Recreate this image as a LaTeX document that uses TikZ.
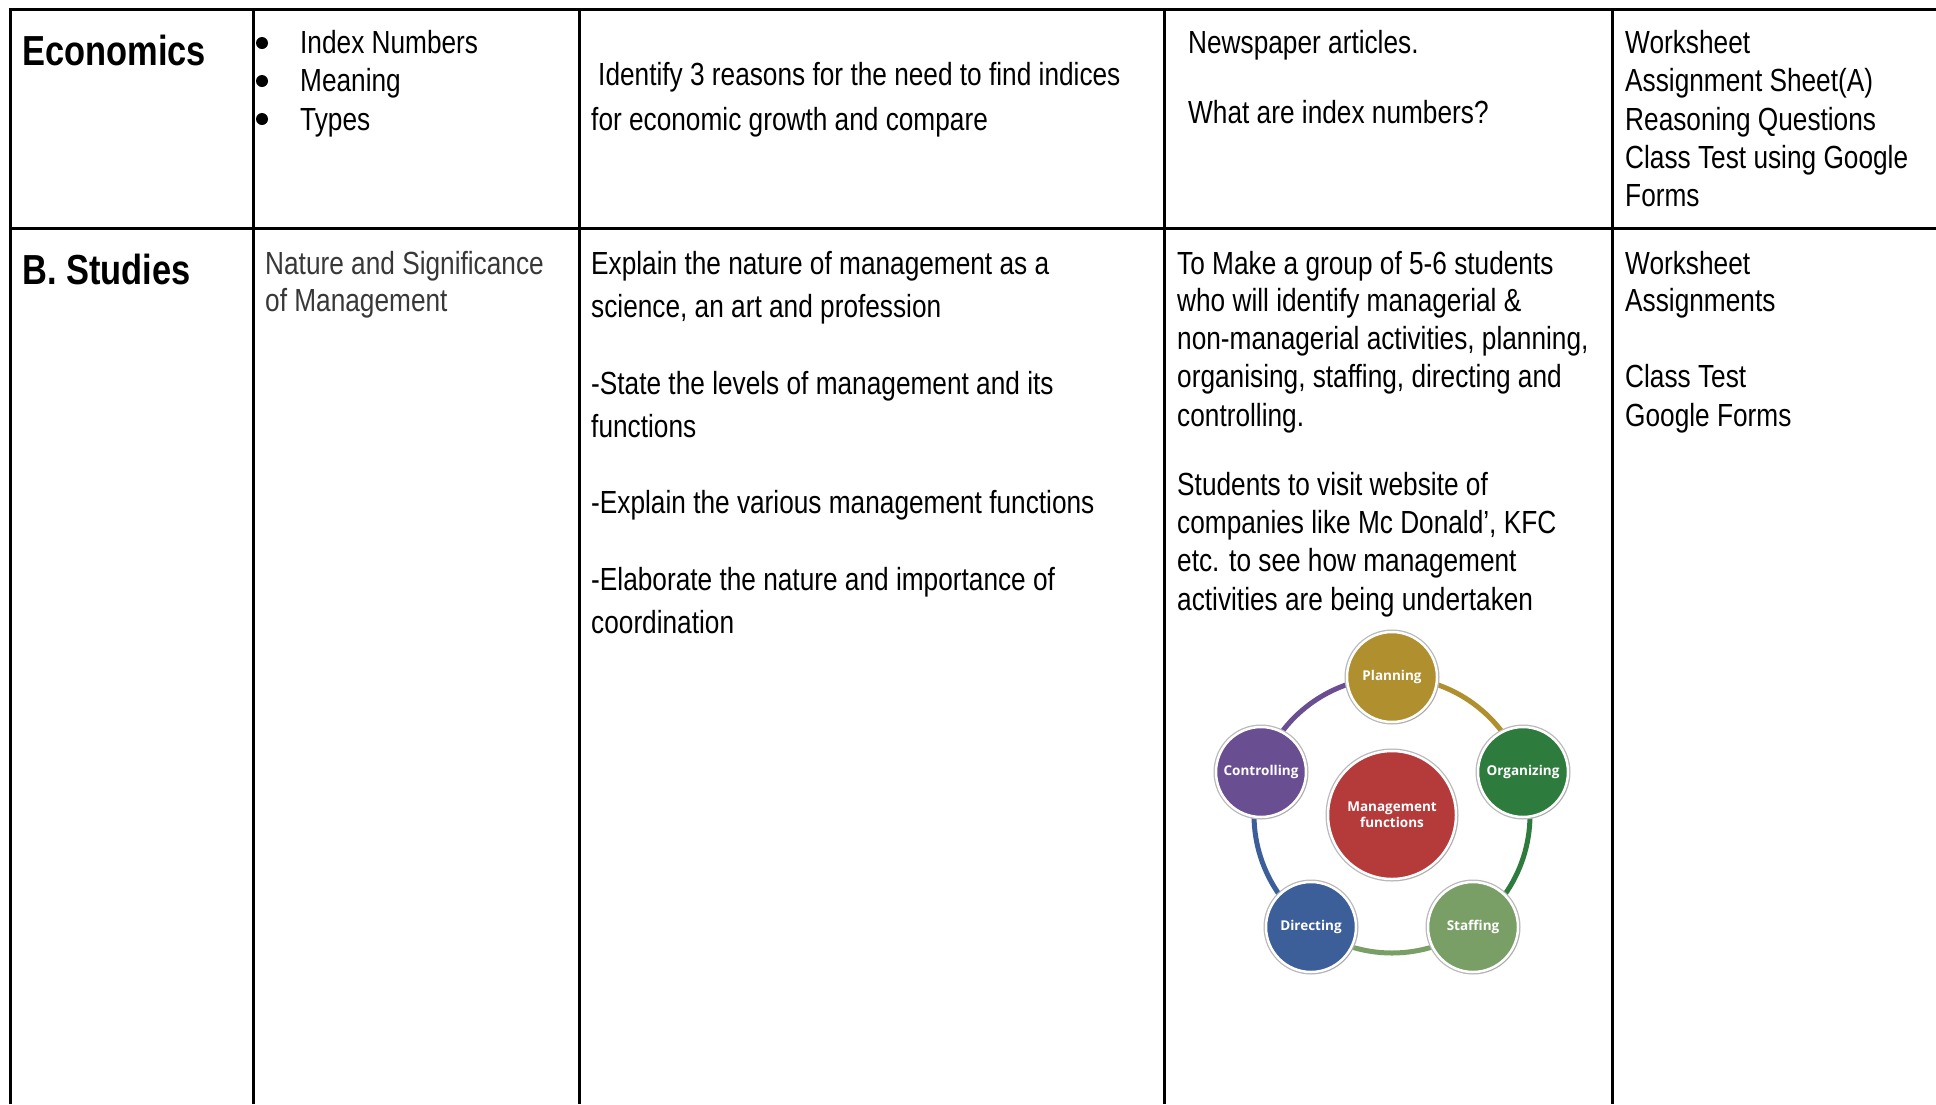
\documentclass[tikz,border=0pt]{standalone}
\usepackage{fontspec}
\setmainfont{Liberation Sans}[FakeStretch=0.82]
\newfontfamily\circfont{Open Sans}
\usetikzlibrary{shadows}
\definecolor{cplan}{HTML}{B08F2E}
\definecolor{corg}{HTML}{2D7B3D}
\definecolor{cstaff}{HTML}{7A9F66}
\definecolor{cdir}{HTML}{3C5E99}
\definecolor{cctrl}{HTML}{6A4E92}
\definecolor{ccent}{HTML}{B53A3A}
\begin{document}
\begin{tikzpicture}[x=1pt,y=-1pt,
  txt/.style={anchor=base west, inner sep=0, font=\fontsize{32}{38}\selectfont},
  hdr/.style={anchor=base west, inner sep=0, font=\fontsize{42}{48}\selectfont\bfseries},
  grid/.style={line width=3},
  bul/.style={circle, fill=black, inner sep=0, minimum size=12},
  fn/.style={circle, draw=white, line width=2.5, minimum size=90, inner sep=0, text=white,
     font=\circfont\bfseries\fontsize{13.5}{16}\selectfont, align=center,
     preaction={draw=black!28, line width=5},
     drop shadow={opacity=0.3, shadow xshift=1.5pt, shadow yshift=-1.5pt}},
  ring/.style={line width=5}]
\useasboundingbox (0,0) rectangle (1936,1104);
\fill[white] (0,0) rectangle (1936,1104);
% grid
\draw[grid] (10,1104) -- (10,9) -- (1936,9);
\draw[grid] (10,228) -- (1936,228);
\foreach \x in {253,579,1164,1612} \draw[grid] (\x,9) -- (\x,1104);
% row 1
\node[hdr] (econ) at (22,65) {Economics};
\node[bul] (b1) at (262,43) {};
\node[bul] (b2) at (262,81) {};
\node[bul] (b3) at (262,119) {};
\node[txt] (t1) at (300,53) {Index Numbers};
\node[txt] (t2) at (300,91) {Meaning};
\node[txt] (t3) at (300,130) {Types};
\node[txt] (o1) at (598,85) {Identify 3 reasons for the need to find indices};
\node[txt] (o2) at (591,130) {for economic growth and compare};
\node[txt] (a1) at (1188,53) {Newspaper articles.};
\node[txt] (a2) at (1188,123) {What are index numbers?};
\node[txt] (w1) at (1625,53) {Worksheet};
\node[txt] (w2) at (1625,91) {Assignment Sheet(A)};
\node[txt] (w3) at (1625,130) {Reasoning Questions};
\node[txt] (w4) at (1625,168) {Class Test using Google};
\node[txt] (w5) at (1625,206) {Forms};
% row 2
\node[hdr] (bs) at (22,284) {B. Studies};
\node[txt, text=black!78] (n1) at (265,274) {Nature and Significance};
\node[txt, text=black!78] (n2) at (265,311) {of Management};
\node[txt] (e1) at (591,274) {Explain the nature of management as a};
\node[txt] (e2) at (591,317) {science, an art and profession};
\node[txt] (e3) at (591,394) {-State the levels of management and its};
\node[txt] (e4) at (591,437) {functions};
\node[txt] (e5) at (591,513) {-Explain the various management functions};
\node[txt] (e6) at (591,590) {-Elaborate the nature and importance of};
\node[txt] (e7) at (591,633) {coordination};
\node[txt] (g1) at (1177,274) {To Make a group of 5-6 students};
\node[txt] (g2) at (1177,311) {who will identify managerial \&};
\node[txt] (g3) at (1177,349) {non-managerial activities, planning,};
\node[txt] (g4) at (1177,387) {organising, staffing, directing and};
\node[txt] (g5) at (1177,426) {controlling.};
\node[txt] (g6) at (1177,495) {Students to visit website of};
\node[txt] (g7) at (1177,533) {companies like Mc Donald’, KFC};
\node[txt] (g8) at (1177,571) {etc. to see how management};
\node[txt] (g9) at (1177,610) {activities are being undertaken};
\node[txt] (r1) at (1625,274) {Worksheet};
\node[txt] (r2) at (1625,311) {Assignments};
\node[txt] (r3) at (1625,387) {Class Test};
\node[txt] (r4) at (1625,426) {Google Forms};
% management diagram
\coordinate (rc) at (1392,815);
\draw[ring, cplan]  ([shift={(-90:138)}]rc) arc[start angle=-90, end angle=-18, radius=138];
\draw[ring, corg]   ([shift={(-18:138)}]rc) arc[start angle=-18, end angle=54, radius=138];
\draw[ring, cstaff] ([shift={(54:138)}]rc) arc[start angle=54, end angle=126, radius=138];
\draw[ring, cdir]   ([shift={(126:138)}]rc) arc[start angle=126, end angle=198, radius=138];
\draw[ring, cctrl]  ([shift={(198:138)}]rc) arc[start angle=198, end angle=270, radius=138];
\node[fn, fill=ccent, minimum size=128] (mf) at (rc) {Management\\functions};
\node[fn, fill=cplan] (plan) at (1392,677) {Planning};
\node[fn, fill=corg] (org) at (1523,772) {Organizing};
\node[fn, fill=cstaff] (staff) at (1473,927) {Staffing};
\node[fn, fill=cdir] (dir) at (1311,927) {Directing};
\node[fn, fill=cctrl] (ctrl) at (1261,772) {Controlling};
\end{tikzpicture}
\end{document}
